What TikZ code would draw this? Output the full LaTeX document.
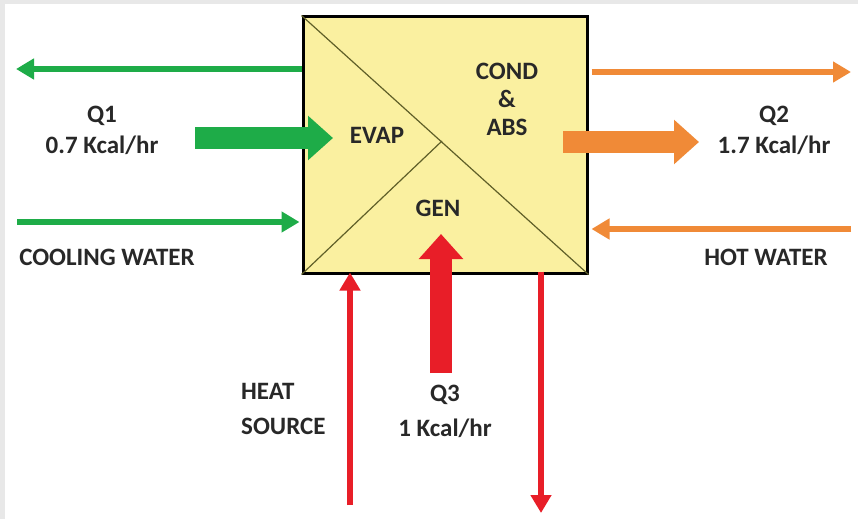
\documentclass[tikz,border=0pt]{standalone}
\usepackage{fontspec}
\setmainfont{Carlito}
\usetikzlibrary{arrows.meta,calc}
\definecolor{boxyellow}{RGB}{250,240,160}
\definecolor{linecol}{RGB}{95,95,40}
\definecolor{grn}{RGB}{30,172,72}
\definecolor{org}{RGB}{240,138,55}
\definecolor{rd}{RGB}{232,30,40}
\definecolor{txt}{RGB}{40,40,40}
\begin{document}
\begin{tikzpicture}[x=1pt,y=-1pt,
  lbl/.style={font=\fontsize{25}{30}\selectfont\bfseries, text=txt, inner sep=0pt, align=center},
  thin/.style={line width=6.5pt, -{Triangle[width=20pt,length=18pt]}},
  thick/.style={line width=22pt, -{Triangle[width=43pt,length=25pt]}}]
\useasboundingbox (0,0) rectangle (858,519);
\fill[gray!18] (0,0) rectangle (858,519);
\fill[white] (5,4) rectangle (858,519);
% box
\node[draw, line width=3pt, fill=boxyellow, minimum width=284pt, minimum height=256pt, inner sep=0pt] (box) at (445,145) {};
\coordinate (mid) at (442,141);
\draw[linecol, line width=1.2pt] (box.north west) -- (box.south east);
\draw[linecol, line width=1.2pt] (box.south west) -- (mid);
% labels in box
\node[lbl] (cond) at (507,99) {COND\\[-2pt]\&\\[-2pt]ABS};
\node[lbl] (evap) at (377,135) {EVAP};
\node[lbl] (gen) at (438,208) {GEN};
% outside labels
\node[lbl] (q1) at (102,130) {Q1\\[1pt]0.7 Kcal/hr};
\node[lbl] (cw) at (107,257) {COOLING WATER};
\node[lbl] (q2) at (774,130) {Q2\\[1pt]1.7 Kcal/hr};
\node[lbl] (hw) at (766,257) {HOT WATER};
\node[lbl, align=left, anchor=west] (hs) at (241,409) {HEAT\\[5pt]SOURCE};
\node[lbl] (q3) at (445,411) {Q3\\[5pt]1 Kcal/hr};
% coordinates for free ends
\coordinate (g1s) at (box.west |- 0,69);
\coordinate (g1e) at (16,69);
\coordinate (g2s) at (17,222);
\coordinate (g2e) at (box.west |- 0,222);
\coordinate (gts) at (195,138);
\coordinate (gte) at (333,138);
\coordinate (o1s) at (box.east |- 0,72);
\coordinate (o1e) at (851,72);
\coordinate (o2s) at (851,229);
\coordinate (o2e) at (box.east |- 0,229);
\coordinate (ots) at (563,142);
\coordinate (ote) at (699,142);
\coordinate (rts) at (441,373);
\coordinate (rte) at (441,234);
\coordinate (r1s) at (350,505);
\coordinate (r1e) at (box.south -| 350,0);
\coordinate (r2s) at (box.south -| 541,0);
\coordinate (r2e) at (541,513);
% arrows
\draw[grn, thin] (g1s) -- (g1e);
\draw[grn, thin] (g2s) -- ([xshift=-2pt]g2e);
\draw[grn, thick] (gts) -- (gte);
\draw[org, thin] ([xshift=3pt]o1s) -- (o1e);
\draw[org, thin] (o2s) -- ([xshift=3pt]o2e);
\draw[org, thick] (ots) -- (ote);
\draw[rd, thick] (rts) -- (rte);
\draw[rd, thin] (r1s) -- ([yshift=2pt]r1e);
\draw[rd, thin] ([yshift=3pt]r2s) -- (r2e);
\end{tikzpicture}
\end{document}
